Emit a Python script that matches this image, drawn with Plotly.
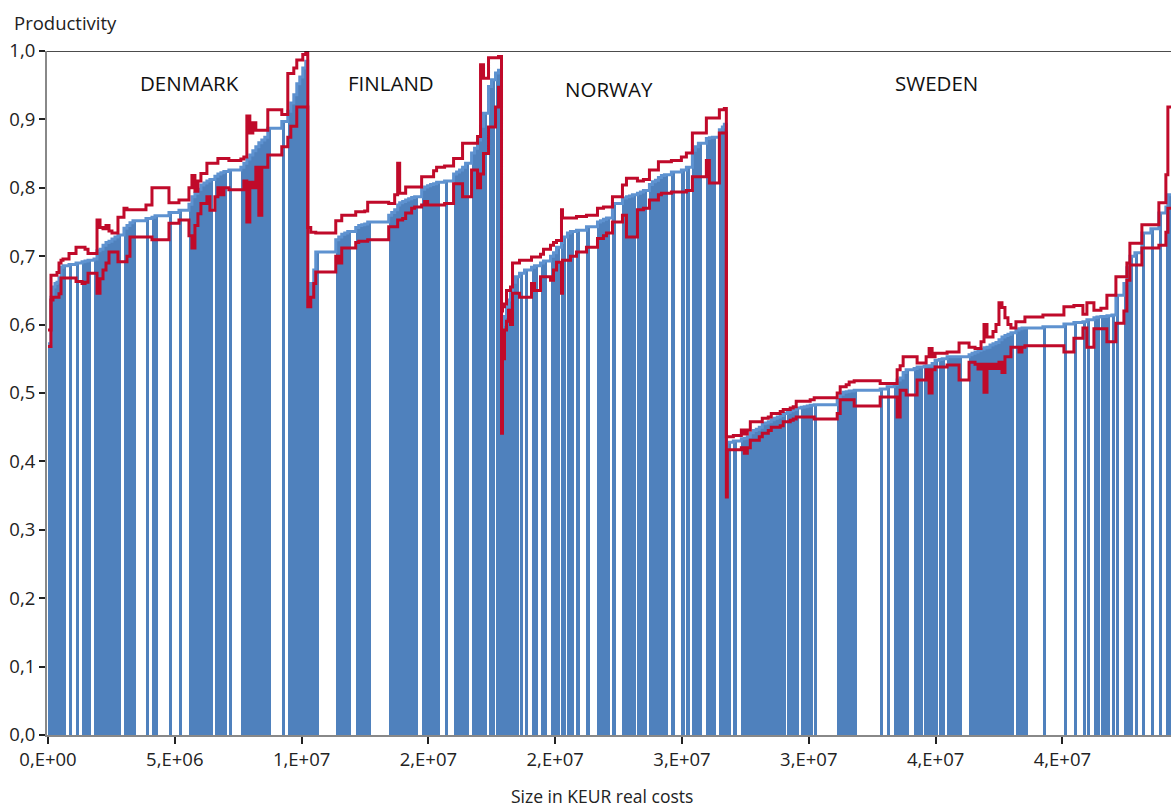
import numpy as np
import plotly.graph_objects as go

# ---------------- DATA ----------------
# firm sizes in MEUR (thousand KEUR), productivity, upper / lower bounds, sorted within country
dk_size = [118, 79, 79, 79, 79, 79, 79, 237, 276, 237, 118, 118, 237, 118, 118, 118, 118, 118, 118, 118,
           118, 237, 118, 118, 118, 513, 237, 118, 552, 394, 394, 118, 118, 118, 118, 118, 118, 118, 197, 118,
           118, 118, 197, 473, 118, 118, 118, 118, 118, 118, 118, 118, 118, 552, 237, 118, 118, 118, 118, 118,
           118, 79]
dk_prod = [0.572, 0.640, 0.655, 0.660, 0.662, 0.668, 0.684, 0.686, 0.688, 0.690, 0.692, 0.693, 0.694, 0.696,
           0.708, 0.710, 0.716, 0.720, 0.722, 0.725, 0.728, 0.731, 0.741, 0.745, 0.749, 0.752, 0.755, 0.757,
           0.759, 0.764, 0.767, 0.776, 0.787, 0.792, 0.798, 0.804, 0.807, 0.810, 0.812, 0.817, 0.820, 0.822,
           0.824, 0.826, 0.830, 0.836, 0.842, 0.848, 0.854, 0.860, 0.866, 0.870, 0.874, 0.887, 0.897, 0.912,
           0.924, 0.936, 0.952, 0.962, 0.975, 0.985]
dk_hi = [0.592, 0.672, 0.672, 0.672, 0.676, 0.690, 0.694, 0.696, 0.704, 0.713, 0.713, 0.710, 0.704, 0.704,
         0.753, 0.742, 0.740, 0.745, 0.737, 0.734, 0.734, 0.757, 0.770, 0.768, 0.768, 0.768, 0.775, 0.800,
         0.800, 0.778, 0.782, 0.800, 0.818, 0.795, 0.810, 0.821, 0.821, 0.836, 0.836, 0.836, 0.843, 0.843,
         0.843, 0.840, 0.842, 0.845, 0.905, 0.880, 0.895, 0.884, 0.884, 0.884, 0.884, 0.914, 0.907, 0.967,
         0.967, 0.975, 0.987, 0.987, 0.995, 1.000]
dk_lo = [0.568, 0.636, 0.640, 0.640, 0.640, 0.645, 0.668, 0.668, 0.668, 0.663, 0.660, 0.662, 0.675, 0.675,
         0.646, 0.667, 0.680, 0.690, 0.706, 0.706, 0.706, 0.692, 0.692, 0.700, 0.728, 0.728, 0.728, 0.724,
         0.724, 0.748, 0.753, 0.730, 0.712, 0.745, 0.762, 0.777, 0.777, 0.787, 0.767, 0.787, 0.800, 0.790,
         0.800, 0.797, 0.797, 0.810, 0.750, 0.808, 0.800, 0.830, 0.760, 0.830, 0.830, 0.848, 0.860, 0.874,
         0.890, 0.890, 0.918, 0.918, 0.918, 0.918]

fi_size = [118, 118, 79, 789, 118, 118, 118, 118, 315, 118, 118, 118, 118, 828, 118, 118, 118, 79, 118, 118,
           118, 118, 118, 276, 118, 118, 118, 118, 118, 315, 355, 118, 118, 118, 118, 237, 118, 118, 118, 118,
           197, 118, 158, 118, 118]
fi_prod = [0.640, 0.660, 0.680, 0.706, 0.724, 0.728, 0.732, 0.734, 0.736, 0.742, 0.745, 0.746, 0.747, 0.750,
           0.760, 0.764, 0.768, 0.775, 0.778, 0.780, 0.782, 0.784, 0.786, 0.787, 0.798, 0.801, 0.803, 0.805,
           0.806, 0.808, 0.810, 0.820, 0.823, 0.826, 0.830, 0.836, 0.851, 0.858, 0.870, 0.890, 0.909, 0.948,
           0.958, 0.968, 0.972]
fi_hi = [0.742, 0.735, 0.735, 0.734, 0.752, 0.752, 0.760, 0.760, 0.760, 0.765, 0.765, 0.765, 0.766, 0.779,
         0.777, 0.777, 0.790, 0.836, 0.792, 0.792, 0.801, 0.801, 0.801, 0.801, 0.816, 0.816, 0.816, 0.816,
         0.825, 0.830, 0.832, 0.843, 0.843, 0.843, 0.865, 0.865, 0.865, 0.865, 0.875, 0.980, 0.960, 0.990,
         0.990, 0.990, 0.992]
fi_lo = [0.626, 0.640, 0.660, 0.677, 0.700, 0.690, 0.712, 0.712, 0.712, 0.720, 0.722, 0.722, 0.722, 0.724,
         0.743, 0.743, 0.743, 0.753, 0.753, 0.755, 0.763, 0.763, 0.770, 0.772, 0.775, 0.780, 0.775, 0.775,
         0.775, 0.775, 0.777, 0.806, 0.806, 0.806, 0.787, 0.787, 0.826, 0.826, 0.800, 0.820, 0.850, 0.889,
         0.889, 0.918, 0.947]

no_size = [39, 79, 79, 79, 79, 79, 118, 158, 197, 276, 118, 237, 118, 276, 118, 118, 197, 39, 197, 118,
           237, 394, 434, 118, 118, 118, 237, 394, 158, 118, 118, 197, 118, 118, 237, 118, 118, 118, 118, 118,
           276, 394, 197, 237, 118, 118, 315, 118, 118, 276, 118, 79, 79]
no_prod = [0.580, 0.600, 0.612, 0.626, 0.636, 0.648, 0.662, 0.670, 0.675, 0.680, 0.684, 0.686, 0.690, 0.693,
           0.700, 0.705, 0.713, 0.720, 0.728, 0.734, 0.736, 0.738, 0.743, 0.750, 0.752, 0.754, 0.756, 0.777,
           0.785, 0.787, 0.788, 0.790, 0.792, 0.794, 0.796, 0.805, 0.809, 0.811, 0.815, 0.818, 0.819, 0.823,
           0.826, 0.830, 0.855, 0.860, 0.865, 0.872, 0.873, 0.874, 0.885, 0.889, 0.893]
no_hi = [0.620, 0.626, 0.630, 0.650, 0.650, 0.655, 0.690, 0.690, 0.694, 0.694, 0.699, 0.699, 0.703, 0.710,
         0.716, 0.720, 0.723, 0.768, 0.756, 0.756, 0.756, 0.758, 0.760, 0.770, 0.770, 0.772, 0.772, 0.787,
         0.804, 0.814, 0.814, 0.814, 0.810, 0.810, 0.812, 0.826, 0.826, 0.826, 0.838, 0.838, 0.838, 0.840,
         0.845, 0.851, 0.880, 0.880, 0.880, 0.902, 0.902, 0.902, 0.914, 0.914, 0.916]
no_lo = [0.441, 0.550, 0.592, 0.605, 0.621, 0.600, 0.646, 0.646, 0.640, 0.640, 0.660, 0.650, 0.670, 0.670,
         0.665, 0.680, 0.691, 0.646, 0.694, 0.694, 0.700, 0.706, 0.713, 0.726, 0.726, 0.730, 0.734, 0.750,
         0.760, 0.728, 0.728, 0.728, 0.768, 0.768, 0.770, 0.782, 0.782, 0.782, 0.790, 0.792, 0.792, 0.794,
         0.794, 0.796, 0.816, 0.816, 0.816, 0.840, 0.807, 0.807, 0.880, 0.880, 0.880]

se_size = [39, 237, 315, 118, 118, 118, 118, 118, 118, 118, 118, 118, 118, 118, 118, 118, 118, 158, 118, 118,
           118, 197, 118, 118, 118, 158, 907, 118, 118, 118, 118, 118, 79, 1025, 276, 276, 118, 118, 118, 118,
           315, 118, 118, 158, 79, 118, 118, 118, 158, 118, 197, 118, 118, 118, 118, 394, 118, 118, 118, 118,
           118, 118, 118, 118, 118, 118, 118, 118, 118, 118, 197, 118, 118, 118, 710, 828, 394, 355, 158, 276,
           118, 158, 118, 118, 197, 158, 315, 118, 118, 197, 276, 355, 315, 276, 79, 158]
se_prod = [0.420, 0.428, 0.430, 0.433, 0.434, 0.436, 0.442, 0.445, 0.447, 0.450, 0.455, 0.456, 0.458, 0.461,
           0.463, 0.465, 0.467, 0.470, 0.472, 0.474, 0.476, 0.478, 0.479, 0.480, 0.481, 0.482, 0.483, 0.490,
           0.498, 0.501, 0.502, 0.503, 0.503, 0.504, 0.506, 0.509, 0.512, 0.519, 0.522, 0.530, 0.534, 0.536,
           0.538, 0.538, 0.539, 0.540, 0.540, 0.543, 0.548, 0.549, 0.550, 0.553, 0.553, 0.553, 0.553, 0.553,
           0.556, 0.558, 0.560, 0.562, 0.564, 0.566, 0.567, 0.570, 0.572, 0.574, 0.578, 0.582, 0.584, 0.586,
           0.588, 0.592, 0.594, 0.595, 0.595, 0.597, 0.601, 0.603, 0.604, 0.607, 0.610, 0.611, 0.612, 0.612,
           0.613, 0.614, 0.643, 0.660, 0.683, 0.700, 0.705, 0.734, 0.740, 0.763, 0.772, 0.790]
se_hi = [0.436, 0.436, 0.438, 0.446, 0.440, 0.446, 0.458, 0.458, 0.458, 0.458, 0.463, 0.463, 0.465, 0.470,
         0.470, 0.470, 0.473, 0.476, 0.476, 0.478, 0.480, 0.488, 0.488, 0.488, 0.488, 0.490, 0.493, 0.500,
         0.509, 0.509, 0.512, 0.516, 0.516, 0.518, 0.514, 0.514, 0.514, 0.534, 0.540, 0.553, 0.553, 0.553,
         0.544, 0.544, 0.544, 0.553, 0.565, 0.553, 0.558, 0.558, 0.558, 0.560, 0.560, 0.560, 0.560, 0.573,
         0.567, 0.567, 0.565, 0.565, 0.575, 0.600, 0.582, 0.582, 0.590, 0.600, 0.632, 0.625, 0.610, 0.600,
         0.595, 0.604, 0.604, 0.604, 0.611, 0.614, 0.626, 0.628, 0.615, 0.632, 0.621, 0.621, 0.624, 0.624,
         0.643, 0.643, 0.670, 0.670, 0.690, 0.719, 0.719, 0.746, 0.746, 0.778, 0.819, 0.918]
se_lo = [0.348, 0.417, 0.417, 0.420, 0.412, 0.420, 0.431, 0.431, 0.431, 0.436, 0.441, 0.441, 0.445, 0.450,
         0.450, 0.450, 0.452, 0.458, 0.458, 0.460, 0.462, 0.465, 0.465, 0.465, 0.465, 0.465, 0.462, 0.470,
         0.490, 0.490, 0.490, 0.490, 0.490, 0.481, 0.494, 0.494, 0.494, 0.465, 0.504, 0.504, 0.497, 0.497,
         0.519, 0.519, 0.519, 0.534, 0.500, 0.534, 0.538, 0.538, 0.538, 0.541, 0.541, 0.541, 0.541, 0.519,
         0.545, 0.545, 0.542, 0.535, 0.542, 0.501, 0.542, 0.536, 0.542, 0.536, 0.545, 0.530, 0.553, 0.553,
         0.567, 0.567, 0.560, 0.567, 0.569, 0.569, 0.560, 0.580, 0.595, 0.567, 0.594, 0.594, 0.594, 0.594,
         0.575, 0.575, 0.602, 0.620, 0.665, 0.687, 0.687, 0.712, 0.712, 0.716, 0.735, 0.770]

countries = ["DENMARK", "FINLAND", "NORWAY", "SWEDEN"]
x_tickvals = [0, 5e6, 1e7, 1.5e7, 2e7, 2.5e7, 3e7, 3.5e7, 4e7]
x_ticktext = ["0,E+00", "5,E+06", "1,E+07", "2,E+07", "2,E+07", "3,E+07", "3,E+07", "4,E+07", "4,E+07"]
y_tickvals = [0.0, 0.1, 0.2, 0.3, 0.4, 0.5, 0.6, 0.7, 0.8, 0.9, 1.0]
y_ticktext = ["0,0", "0,1", "0,2", "0,3", "0,4", "0,5", "0,6", "0,7", "0,8", "0,9", "1,0"]

# ---------------- BUILD ----------------
size = np.array(dk_size + fi_size + no_size + se_size, dtype=float) * 1000.0  # KEUR
prod = np.array(dk_prod + fi_prod + no_prod + se_prod)
hi = np.array(dk_hi + fi_hi + no_hi + se_hi)
lo = np.array(dk_lo + fi_lo + no_lo + se_lo)
ends = np.cumsum(size)
starts = ends - size

BAR_W = 126000
BLUE = "#4F81BD"
LINE_BLUE = "#5E92D0"
RED = "#C00A2A"
FONT = "Open Sans"

def step(vals):
    return list(starts) + [ends[-1]], list(vals) + [vals[-1]]

fig = go.Figure()
fig.add_trace(go.Bar(x=starts, y=prod, width=BAR_W, offset=0,
                     marker=dict(color=BLUE, line=dict(width=0)), showlegend=False))
sx, sy = step(prod)
fig.add_trace(go.Scatter(x=sx, y=sy, mode="lines", line=dict(color=LINE_BLUE, width=3, shape="hv"),
                         showlegend=False))
for v in (hi, lo):
    sx, sy = step(v)
    fig.add_trace(go.Scatter(x=sx, y=sy, mode="lines", line=dict(color=RED, width=3, shape="hv"),
                             showlegend=False))

px_unit = 5e6 / 126.8
fig.update_layout(
    width=1171, height=807,
    margin=dict(l=47, r=0, t=51, b=72, autoexpand=False),
    paper_bgcolor="white", plot_bgcolor="white",
    font=dict(family=FONT, size=18, color="#222"),
    bargap=0,
    xaxis=dict(range=[-1 * px_unit, 1123 * px_unit], tickvals=x_tickvals, ticktext=x_ticktext,
               ticks="outside", ticklen=7, tickwidth=2, tickcolor="#222", automargin=False,
               showline=True, linecolor="#888", linewidth=2, showgrid=False, zeroline=False,
               tickfont=dict(size=18.5, color="#222")),
    yaxis=dict(range=[0, 1.0], tickvals=y_tickvals, ticktext=y_ticktext, automargin=False,
               ticks="outside", ticklen=6, tickwidth=2, tickcolor="#222",
               showline=True, linecolor="#888", linewidth=2, showgrid=False, zeroline=False,
               tickfont=dict(size=18.5, color="#222")),
)
fig.add_shape(type="line", xref="paper", yref="y", x0=0, x1=1, y0=1.0, y1=1.0,
              line=dict(color="#111", width=1.5))

fig.add_annotation(text="Size in KEUR real costs", xref="paper", yref="paper", x=0.4938, y=-0.0885,
                   xanchor="center", yanchor="middle", showarrow=False, font=dict(size=17.5, color="#222"))
fig.add_annotation(text="Productivity", xref="paper", yref="paper", x=-0.031, y=1.042,
                   xanchor="left", yanchor="middle", showarrow=False, font=dict(size=18.5, color="#222"))
label_pos = [(0.1272, 0.953), (0.306, 0.953), (0.5, 0.944), (0.791, 0.953)]
for name, (lx, ly) in zip(countries, label_pos):
    fig.add_annotation(text=name, xref="paper", yref="paper", x=lx, y=ly, xanchor="center",
                       yanchor="middle", showarrow=False, font=dict(size=20.5, color="#111"))

fig.write_html("out.html", config={"displayModeBar": False},
               post_script="document.body.style.margin='0';document.body.style.overflow='hidden';")
